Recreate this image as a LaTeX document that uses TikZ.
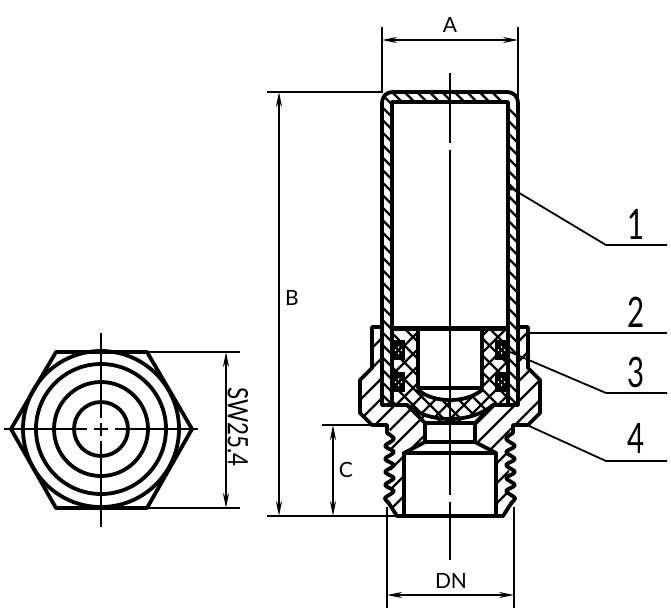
\documentclass[tikz,border=0pt]{standalone}
\usepackage{fontspec}
\setmainfont{Lato}
\usetikzlibrary{arrows.meta}
\tikzset{
  x=1pt,y=-1pt,
  thickline/.style={line width=3.8pt,line join=round,line cap=round},
  thinline/.style={line width=1.8pt},
  hatchline/.style={line width=2.2pt},
  dimline/.style={line width=1.8pt,{Stealth[length=15pt,width=6pt]}-{Stealth[length=15pt,width=6pt]}},
  centre/.style={line width=2pt},
  lbl/.style={inner sep=0pt,font=\fontsize{21}{21}\selectfont},
  num/.style={inner sep=0pt,font=\fontsize{42}{42}\selectfont,xscale=.7}
}
\begin{document}
\begin{tikzpicture}
\useasboundingbox (0,0) rectangle (671,614);
\fill[white] (0,0) rectangle (671,614);

% ---- body hatching
\begin{scope}
\clip (372,327) -- (372,368) -- (360,380) -- (360,413) -- (372,425) -- (387,425) -- (391,433) -- (391,503) -- (397,515) -- (503,515) -- (509,503) -- (509,433) -- (513,425) -- (528,425) -- (540,413) -- (540,380) -- (528,368) -- (528,327) -- cycle;
\foreach \c in {60,80,...,460} \draw[hatchline] (\c,600) -- ({\c+600},0);
\end{scope}
% cavities
\fill[white] (382,325) rectangle (518,405);
\fill[white] (425,423) rectangle (475,442);
\fill[white] (425,442) -- (475,442) -- (496,453) -- (496,514) -- (404,514) -- (404,453) -- cycle;

% ---- canister wall hatching
\begin{scope}
\clip (382,405) -- (382,104) .. controls (382,96) and (386,92) .. (394,92) -- (506,92) .. controls (514,92) and (518,96) .. (518,104) -- (518,405) -- cycle;
\foreach \c in {0,12.5,...,800} \draw[hatchline] ({\c-400},0) -- ({\c+250},650);
\end{scope}
\fill[white] (392,102) rectangle (508,405);

% ---- seal cross hatching
\begin{scope}
\path[clip] (392,327) -- (508,327) -- (508,405) -- (493,405) .. controls (485,412) and (470,419) .. (450,419) .. controls (430,419) and (415,412) .. (407,405) -- (392,405) -- cycle;
\fill[white] (385,320) rectangle (515,425);
\foreach \c in {0,17,...,800} {
  \draw[hatchline] ({\c-400},0) -- ({\c+250},650);
  \draw[hatchline] ({\c+100},650) -- ({\c+750},0);
}
\end{scope}
\fill[white] (418,330) rectangle (482,388);
\fill[white] (418,390) .. controls (428,398) and (440,400) .. (450,400) .. controls (460,400) and (472,398) .. (482,390) -- cycle;

% ---- o-rings
\foreach \xa/\ya in {392/340,392/372,495/340,495/372} {
  \fill[black] (\xa,\ya) rectangle ({\xa+13},{\ya+20});
  \fill[white] ({\xa+6.5},{\ya+7}) circle (1) ({\xa+6.5},{\ya+13}) circle (1) ({\xa+3.5},{\ya+10}) circle (1) ({\xa+9.5},{\ya+10}) circle (1);
}

% ---- outlines
\draw[thickline] (382,405) -- (382,104) .. controls (382,96) and (386,92) .. (394,92) -- (506,92) .. controls (514,92) and (518,96) .. (518,104) -- (518,405);
\draw[thickline] (392,405) -- (392,102) -- (508,102) -- (508,405);
\draw[line width=5pt] (392,328) -- (508,328);
\draw[thickline] (418,330) -- (418,388) -- (482,388) -- (482,330);
\draw[thickline] (418,390) .. controls (428,398) and (440,400) .. (450,400) .. controls (460,400) and (472,398) .. (482,390);
\draw[thickline] (493,405) .. controls (485,412) and (470,419) .. (450,419) .. controls (430,419) and (415,412) .. (407,405);
\draw[thickline] (382,405) -- (407,405) -- (425,423) -- (475,423) -- (493,405) -- (518,405);
\draw[thickline] (425,423) -- (425,442) -- (475,442) -- (475,423);
\draw[thickline] (425,442) -- (404,453) -- (496,453) -- (475,442);
\draw[thickline] (404,453) -- (404,514);
\draw[thickline] (496,453) -- (496,514);
\draw[thickline] (382,327) -- (372,327) -- (372,368) -- (360,380) -- (360,413) -- (372,425) -- (387,425) -- (387,433);
\draw[thickline] (518,327) -- (528,327) -- (528,368) -- (540,380) -- (540,413) -- (528,425) -- (513,425) -- (513,433);
\draw[thickline] (388,502) -- (397,516) -- (503,516) -- (512,502);
\draw[thickline] plot[smooth] coordinates {(387,433) (394,439) (385,446) (394,452) (385,459) (394,465) (385,472) (394,478) (385,485) (394,491) (385,498) (389,503)};
\draw[thickline] plot[smooth] coordinates {(513,433) (506,439) (515,446) (506,452) (515,459) (506,465) (515,472) (506,478) (515,485) (506,491) (515,498) (511,503)};

% ---- centre line of section
\draw[centre] (450,73) -- (450,143) (450,150) -- (450,495) (450,502) -- (450,560);

% ---- dimensions
\coordinate (a1) at (382,40); \coordinate (a2) at (518,40);
\draw[thinline] (382,27) -- (382,92) (518,27) -- (518,100);
\draw[dimline] (a1) -- (a2);
\node[lbl] (labA) at (450,25) {A};
\draw[thinline] (267,92) -- (383,92) (267,516) -- (397,516);
\coordinate (b1) at (279,92); \coordinate (b2) at (279,516);
\draw[dimline] (b1) -- (b2);
\node[lbl] (labB) at (292,298) {B};
\draw[thinline] (322,425) -- (372,425);
\coordinate (c1) at (333,425); \coordinate (c2) at (333,516);
\draw[dimline] (c1) -- (c2);
\node[lbl] (labC) at (346,470) {C};
\draw[thinline] (387,507) -- (387,608) (514,507) -- (514,608);
\coordinate (d1) at (387,595); \coordinate (d2) at (514,595);
\draw[dimline] (d1) -- (d2);
\node[lbl] (labDN) at (451,581) {DN};

% ---- leaders
\coordinate (l1a) at (511,188); \coordinate (l1b) at (606,245); \coordinate (l1c) at (667,245);
\fill (l1a) circle (2.5);
\draw[thinline] (l1a) -- (l1b) -- (l1c);
\coordinate (l2a) at (527,333); \coordinate (l2c) at (667,333);
\draw[thinline] (l2a) -- (l2c);
\coordinate (l3a) at (510,352); \coordinate (l3b) at (606,393); \coordinate (l3c) at (667,393);
\draw[thinline] (l3a) -- (l3b) -- (l3c);
\coordinate (l4a) at (527,425); \coordinate (l4b) at (606,461); \coordinate (l4c) at (667,461);
\draw[thinline] (l4a) -- (l4b) -- (l4c);
\node[num] (n1) at (636,224) {1};
\node[num] (n2) at (636,312) {2};
\node[num] (n3) at (636,372) {3};
\node[num] (n4) at (636,438) {4};

% ---- hexagon view
\draw[thickline] (11,429) -- (56,352) -- (147,352) -- (192,429) -- (147,508) -- (56,508) -- cycle;
\draw[thickline] (101,429) circle (78) (101,429) circle (65) (101,429) circle (47) (101,429) circle (27);
\draw[centre] (4,429) -- (87,429) (94,429) -- (108,429) (115,429) -- (198,429);
\draw[centre] (101,333) -- (101,418) (101,423) -- (101,436) (101,441) -- (101,527);
\draw[thinline] (147,352) -- (240,352) (147,508) -- (240,508);
\coordinate (s1) at (226,352); \coordinate (s2) at (226,508);
\draw[dimline] (s1) -- (s2);
\node[inner sep=0pt,font=\fontsize{28}{28}\selectfont,rotate=-90,xscale=.8] (labSW) at (238,427) {SW25.4};
\end{tikzpicture}
\end{document}
